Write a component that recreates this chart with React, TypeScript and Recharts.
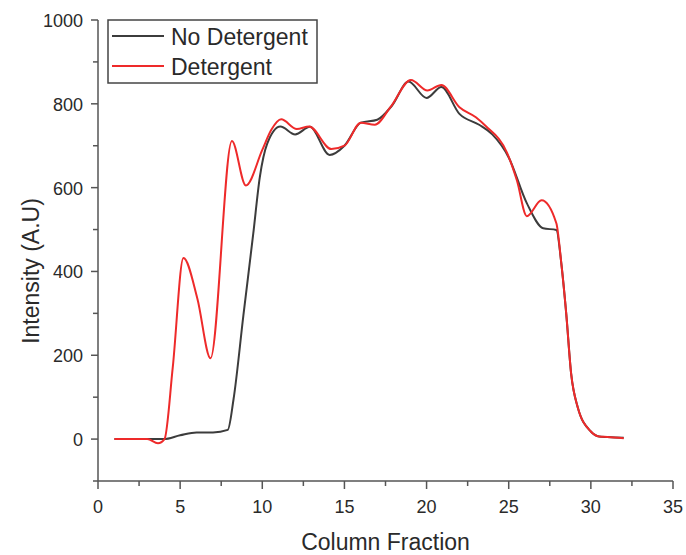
import { LineChart, Line, XAxis, YAxis, Legend } from 'recharts'

// Fractions / intensities
const noDetFractions = [1, 2, 3, 4, 5, 6, 7, 7.9, 8.25, 8.85, 9.45, 9.85, 10.3, 11.1, 12, 12.9, 14.1, 15, 16, 17, 17.9, 18.9, 20, 20.9, 22, 23.2, 24, 25, 26.1, 27.1, 27.9, 28.2, 28.5, 28.8, 29.2, 30, 30.5, 31, 32]
const noDetIntensity = [0, 0, 0, 0, 9, 16, 16, 22, 95, 295, 490, 625, 705, 746, 727, 745, 678, 700, 755, 762, 796, 853, 814, 840, 776, 750, 727, 672, 563, 503, 499, 420, 300, 156, 76, 18, 6, 5, 3]

const detFractions = [1, 2, 3, 3.65, 4.05, 4.55, 5.2, 6.05, 6.85, 8.15, 9, 10, 10.55, 11.15, 12.1, 12.85, 14.2, 15, 16, 16.85, 17.8, 19.05, 20.05, 20.9, 22, 23, 23.6, 24.9, 25.5, 26.1, 27, 27.9, 28.2, 28.5, 28.8, 29.2, 30, 30.5, 31, 32]
const detIntensity = [0, 0, 0, -10, 0, 171, 432, 335, 193, 711, 605, 690, 738, 763, 740, 746, 692, 700, 755, 750, 792, 857, 832, 845, 792, 768, 747, 683, 617, 532, 570, 515, 420, 300, 156, 76, 18, 6, 5, 2]

const xTicks = [0, 2.5, 5, 7.5, 10, 12.5, 15, 17.5, 20, 22.5, 25, 27.5, 30, 32.5, 35]
const yTicks = [-100, 0, 100, 200, 300, 400, 500, 600, 700, 800, 900, 1000]

const noDetData = noDetFractions.map((x, i) => ({ x, y: noDetIntensity[i] }))
const detData = detFractions.map((x, i) => ({ x, y: detIntensity[i] }))

const AXIS = '#555'
const TEXT = '#2a2a2a'
const FONT = 'Liberation Sans, Arial, sans-serif'

function XTick({ x, y, payload }: any) {
  const major = payload.value % 5 === 0
  return (
    <g>
      <line x1={x} x2={x} y1={y} y2={y + (major ? 8 : 5)} stroke={AXIS} strokeWidth={1.5} />
      {major && (
        <text x={x} y={y + 32} textAnchor="middle" fontSize={18} fill={TEXT} fontFamily={FONT}>
          {payload.value}
        </text>
      )}
    </g>
  )
}

function YTick({ x, y, payload }: any) {
  const major = payload.value >= 0 && payload.value % 200 === 0
  return (
    <g>
      <line x1={x} x2={x - (major ? 7 : 5)} y1={y} y2={y} stroke={AXIS} strokeWidth={1.5} />
      {major && (
        <text x={x - 15} y={y + 7} textAnchor="end" fontSize={18} fill={TEXT} fontFamily={FONT}>
          {payload.value}
        </text>
      )}
    </g>
  )
}

// axis titles ignore the props Recharts passes in and sit where the reference has them
function XTitle() {
  return (
    <text x={385.5} y={550} textAnchor="middle" fontSize={23} fill={TEXT} fontFamily={FONT}>
      Column Fraction
    </text>
  )
}

function YTitle() {
  return (
    <text
      x={38.5}
      y={271}
      transform="rotate(-90, 38.5, 271)"
      textAnchor="middle"
      fontSize={23}
      fill={TEXT}
      fontFamily={FONT}
    >
      Intensity (A.U)
    </text>
  )
}

function LegendBox() {
  return (
    <svg width={212} height={66} style={{ display: 'block' }}>
      <rect x={1} y={1} width={209} height={63} fill="#fff" stroke="#444" strokeWidth={1.5} />
      <line x1={5} x2={57} y1={17} y2={17} stroke="#3c3c3c" strokeWidth={2} />
      <line x1={5} x2={57} y1={47} y2={47} stroke="#ee2a2a" strokeWidth={2} />
      <text x={64} y={26} fontSize={23} fill={TEXT} fontFamily={FONT}>No Detergent</text>
      <text x={64} y={56} fontSize={23} fill={TEXT} fontFamily={FONT}>Detergent</text>
    </svg>
  )
}

export default function App() {
  return (
    <div style={{ position: 'absolute', left: 0, top: 0, background: '#fff' }}>
      <LineChart width={686} height={555} margin={{ top: 20, right: 13, left: 0, bottom: 0 }}>
        <XAxis
          dataKey="x"
          type="number"
          domain={[0, 35]}
          ticks={xTicks}
          interval={0}
          tickSize={0}
          tickMargin={0}
          tick={<XTick />}
          height={74}
          stroke={AXIS}
          strokeWidth={1.5}
          allowDuplicatedCategory={false}
          label={<XTitle />}
        />
        <YAxis
          type="number"
          domain={[-100, 1000]}
          ticks={yTicks}
          interval={0}
          tickSize={0}
          tickMargin={0}
          tick={<YTick />}
          width={98}
          stroke={AXIS}
          strokeWidth={1.5}
          allowDataOverflow
          label={<YTitle />}
        />
        <Legend
          layout="horizontal"
          verticalAlign="middle"
          wrapperStyle={{ left: 107, top: 19, width: 212, height: 66 }}
          content={() => <LegendBox />}
        />
        <Line
          data={noDetData}
          dataKey="y"
          name="No Detergent"
          type="monotone"
          stroke="#3c3c3c"
          strokeWidth={2}
          dot={false}
          isAnimationActive={false}
        />
        <Line
          data={detData}
          dataKey="y"
          name="Detergent"
          type="monotone"
          stroke="#ee2a2a"
          strokeWidth={2}
          dot={false}
          isAnimationActive={false}
        />
      </LineChart>
    </div>
  )
}
